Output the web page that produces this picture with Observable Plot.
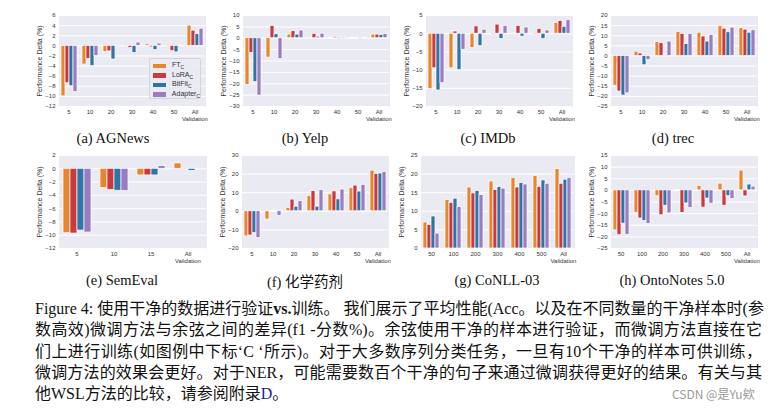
<!DOCTYPE html>
<html><head><meta charset="utf-8">
<script src="https://cdn.jsdelivr.net/npm/d3@7"></script>
<script src="https://cdn.jsdelivr.net/npm/@observablehq/plot@0.6"></script>
<style>
body{margin:0;background:#fff}
#root{position:relative;width:780px;height:411px;overflow:hidden;background:#fff;font-family:"Liberation Sans",Arial,sans-serif}
.panel{position:absolute}
.panel svg [aria-label="y-axis label"]{font-size:7px}
.cap{position:absolute;font-family:"Liberation Serif","Noto Sans CJK SC",serif;font-size:14.5px;transform:translate(-50%,-50%);white-space:nowrap;color:#111}
.legend{position:absolute;left:149px;top:58px;width:52px;height:41px;box-sizing:border-box;background:rgba(234,234,242,0.85);border:1px solid #d4d4dc;border-radius:2px;padding-top:2px;font-size:7px;color:#333}
.legend .row{height:9.5px;display:flex;align-items:center}
.legend .sw{width:13px;height:4.5px;margin-left:3px;margin-right:6px}
.legend sub{font-size:5px;vertical-align:-2px}
.fig{position:absolute;left:35px;top:298px;width:727px;font-family:"Liberation Serif","Noto Sans CJK SC",serif;font-size:16px;line-height:21.3px;color:#111}
.fig div{text-align:justify;text-align-last:justify;white-space:nowrap}
.fig div.last{text-align-last:left}
.wm{position:absolute;left:672px;top:385px;font-size:12px;color:#9a9a9a;font-family:"Noto Sans CJK SC",sans-serif}
</style></head>
<body><div id="root"></div>
<script>
// ---- data ----
const methods = ["FT", "LoRA", "BitFit", "Adapter"];
const methodColors = ["#e8862e", "#c9393e", "#2f75a8", "#9a7cc0"];
const groupsSeq = ["5", "10", "20", "30", "40", "50", "All\nValidation"];
const groupsSemEval = ["5", "10", "15", "All\nValidation"];
const groupsNER = ["50", "100", "200", "300", "400", "500", "All\nValidation"];

// rows: FT, LoRA, BitFit, Adapter
const agnews = [
  [-10.0, -3.7, -1.25, -0.2, 0.3, -0.2, 4.0],
  [-7.4, -2.6, -1.1, -0.45, -0.3, -1.05, 3.0],
  [-8.0, -4.0, -2.7, -1.45, -0.85, -1.3, 2.3],
  [-9.1, -2.0, 0.1, 0.65, 0.45, 0.05, 3.4]
];
const yelp = [
  [-20.5, -8.5, 1.6, 0.4, 0.2, 0.3, 1.6],
  [-6.4, 5.4, 3.1, 1.9, 0.6, 0.1, 1.6],
  [-19.3, 1.75, 1.6, 0.7, -0.3, -0.4, 1.5],
  [-25.2, -9.1, 3.4, 2.0, 0.5, 0.2, 1.8]
];
const imdb = [
  [-15.2, -9.5, -3.9, -0.3, 0.05, -0.3, 3.0],
  [-9.5, 0.6, 2.0, 2.5, 2.1, 1.3, 3.5],
  [-15.6, -10.0, -3.4, -1.5, -0.8, -1.5, 1.9],
  [-13.6, -4.4, 1.1, 2.1, 1.7, 0.9, 3.7]
];
const trec = [
  [-14.7, 2.1, 6.8, 11.9, 11.5, 14.7, 13.8],
  [-17.6, 1.2, 6.3, 10.9, 9.6, 13.5, 13.0],
  [-19.6, -4.6, 0.2, 5.9, 7.1, 11.7, 11.5],
  [-18.5, -2.0, 7.1, 10.9, 10.4, 14.0, 12.7]
];
const semeval = [
  [-9.7, -2.9, -1.0, 0.8],
  [-9.75, -3.2, -1.0, 0.05],
  [-9.3, -3.3, -1.0, -0.3],
  [-9.6, -3.35, 0.4, 0.02]
];
const chem = [
  [-13.5, -4.4, 1.8, 8.1, 9.1, 12.4, 21.9],
  [-13.0, 0.1, 6.3, 10.9, 10.7, 13.8, 20.1],
  [-11.7, 0.3, 2.5, 2.5, 6.4, 10.6, 20.3],
  [-14.4, -2.4, 5.4, 11.3, 11.7, 14.2, 21.2]
];
const conll = [
  [7.0, 13.0, 16.4, 18.0, 18.9, 19.5, 21.4],
  [6.3, 12.3, 14.8, 15.7, 16.4, 16.6, 17.4],
  [8.6, 13.4, 15.5, 16.5, 17.6, 18.3, 18.5],
  [4.0, 11.2, 14.4, 16.1, 17.2, 17.4, 18.9]
];
const ontonotes = [
  [-17.2, -9.6, -2.5, 0.1, 1.9, 2.9, 8.5],
  [-19.3, -12.1, -10.7, -9.7, -7.4, -6.6, -2.6],
  [-14.3, -13.1, -6.6, -5.6, -3.5, -2.5, 2.5],
  [-19.1, -14.4, -9.9, -7.6, -5.7, -3.7, 1.6]
];

const ticksAG = [-12, -10, -8, -6, -4, -2, 0, 2, 4, 6];
const ticksYelp = [-30, -25, -20, -15, -10, -5, 0, 5, 10];
const ticksIMDb = [-20, -15, -10, -5, 0, 5];
const ticksTrec = [-25, -20, -15, -10, -5, 0, 5, 10, 15, 20];
const ticksSem = [-12, -10, -8, -6, -4, -2, 0, 2];
const ticksChem = [-20, -10, 0, 10, 20, 30];
const ticksConll = [0, 5, 10, 15, 20, 25];
const ticksOnto = [-25, -20, -15, -10, -5, 0, 5, 10, 15];

const captions = ["(a) AGNews", "(b) Yelp", "(c) IMDb", "(d) trec", "(e) SemEval", "(f) 化学药剂", "(g) CoNLL-03", "(h) OntoNotes 5.0"];

// ---- layout ----
const root = document.getElementById("root");
const ML = 40, MR = 4, MT = 4, MB = 24;

function panel(groups, values, ticks, left, top, w, h) {
  const data = [];
  methods.forEach((m, i) => groups.forEach((g, j) => data.push({group: g, method: m, value: values[i][j]})));
  const chart = Plot.plot({
    width: w + ML + MR, height: h + MT + MB,
    marginLeft: ML, marginRight: MR, marginTop: MT, marginBottom: MB,
    style: {background: "transparent", fontSize: "6px", fontFamily: "Liberation Sans, Arial, sans-serif", color: "#333", overflow: "visible"},
    fx: {domain: groups, padding: 0, axis: null},
    x: {domain: methods, paddingInner: 0, paddingOuter: 0.5, axis: null},
    y: {domain: [ticks[0], ticks[ticks.length - 1]], ticks: ticks, tickSize: 0, tickPadding: 3,
        label: "Performance Delta (%)", labelAnchor: "center", labelOffset: 21, labelArrow: "none"},
    color: {domain: methods, range: methodColors},
    marks: [
      Plot.frame({fill: "#eaeaf2", stroke: null, shapeRendering: "crispEdges"}),
      Plot.ruleY(ticks, {stroke: "white", strokeWidth: 1}),
      Plot.barY(data, {fx: "group", x: "method", y: "value", fill: "method", stroke: "white", strokeWidth: 0.7}),
      Plot.text(groups, {fx: d => d, text: d => d, frameAnchor: "bottom", lineAnchor: "top", dy: 3, lineHeight: 1.15, fill: "#333"})
    ]
  });
  const div = document.createElement("div");
  div.className = "panel";
  div.style.left = (left - ML) + "px";
  div.style.top = (top - MT) + "px";
  div.appendChild(chart);
  root.appendChild(div);
}

panel(groupsSeq, agnews, ticksAG, 58, 15, 147, 91);
panel(groupsSeq, yelp, ticksYelp, 242, 15, 147, 91);
panel(groupsSeq, imdb, ticksIMDb, 425, 15, 147, 91);
panel(groupsSeq, trec, ticksTrec, 610, 15, 147, 91);
panel(groupsSemEval, semeval, ticksSem, 58, 155, 148, 93);
panel(groupsSeq, chem, ticksChem, 241, 155, 147, 93);
panel(groupsNER, conll, ticksConll, 420, 155, 154, 93);
panel(groupsNER, ontonotes, ticksOnto, 610, 155, 147, 93);

// legend (inside panel a)
const leg = document.createElement("div");
leg.className = "legend";
methods.forEach((m, i) => {
  const r = document.createElement("div");
  r.className = "row";
  r.innerHTML = `<span class="sw" style="background:${methodColors[i]}"></span><span>${m}<sub>C</sub></span>`;
  leg.appendChild(r);
});
root.appendChild(leg);

// panel captions
const capPos = [[113, 138], [305, 138], [488, 138], [673, 138], [122, 280], [305, 280], [497, 280], [672, 280]];
captions.forEach((c, i) => {
  const d = document.createElement("div");
  d.className = "cap";
  d.style.left = capPos[i][0] + "px";
  d.style.top = capPos[i][1] + "px";
  d.textContent = c;
  root.appendChild(d);
});

// figure caption
const figLines = [
  "Figure 4: 使用干净的数据进行验证<b>vs.</b>训练。 我们展示了平均性能(Acc。以及在不同数量的干净样本时(参",
  "数高效)微调方法与余弦之间的差异(f1 -分数%)。余弦使用干净的样本进行验证，而微调方法直接在它",
  "们上进行训练(如图例中下标‘C ‘所示)。对于大多数序列分类任务，一旦有10个干净的样本可供训练，",
  "微调方法的效果会更好。对于NER，可能需要数百个干净的句子来通过微调获得更好的结果。有关与其",
  "他WSL方法的比较，请参阅附录<span style=\"color:#1a1aa6\">D</span>。"
];
const fig = document.createElement("div");
fig.className = "fig";
figLines.forEach((t, i) => {
  const d = document.createElement("div");
  if (i === figLines.length - 1) d.className = "last";
  d.innerHTML = t;
  fig.appendChild(d);
});
root.appendChild(fig);

const wm = document.createElement("div");
wm.className = "wm";
wm.textContent = "CSDN @是Yu欸";
root.appendChild(wm);
</script></body></html>
